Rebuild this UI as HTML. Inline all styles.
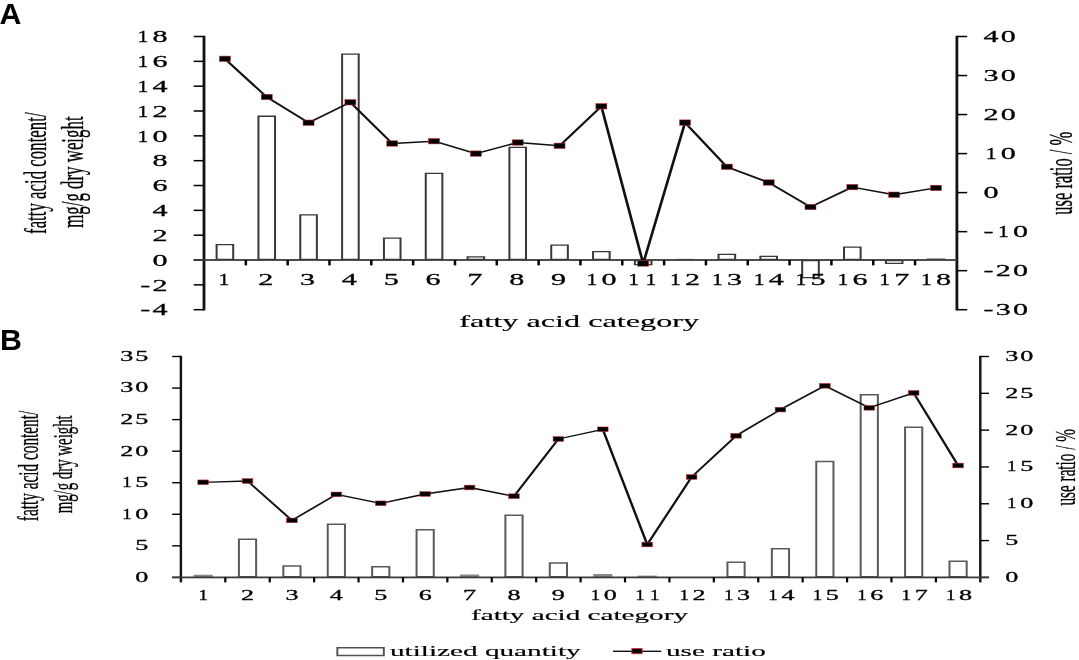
<!DOCTYPE html><html><head><meta charset="utf-8"><style>html,body{margin:0;padding:0;background:#fff;width:1079px;height:660px;overflow:hidden}</style></head><body><svg width="1079" height="660" viewBox="0 0 1079 660" style="display:block;will-change:transform"><g>
<rect width="1079" height="660" fill="#fff"/>
<path d="M215.61,243.9H234.21V260H215.61ZM217.61,245.2V258.7H232.21V245.2Z" fill="#383838" fill-rule="evenodd"/>
<path d="M257.44,115.6H276.04V260H257.44ZM259.44,116.9V258.7H274.04V116.9Z" fill="#383838" fill-rule="evenodd"/>
<path d="M299.27,214.3H317.87V260H299.27ZM301.27,215.6V258.7H315.87V215.6Z" fill="#383838" fill-rule="evenodd"/>
<path d="M341.1,53.5H359.7V260H341.1ZM343.1,54.8V258.7H357.7V54.8Z" fill="#383838" fill-rule="evenodd"/>
<path d="M382.93,237.4H401.53V260H382.93ZM384.93,238.7V258.7H399.53V238.7Z" fill="#383838" fill-rule="evenodd"/>
<path d="M424.75,172.7H443.35V260H424.75ZM426.75,174V258.7H441.35V174Z" fill="#383838" fill-rule="evenodd"/>
<path d="M466.58,256.2H485.18V260H466.58ZM468.58,257.5V258.7H483.18V257.5Z" fill="#383838" fill-rule="evenodd"/>
<path d="M508.41,146.7H527.01V260H508.41ZM510.41,148V258.7H525.01V148Z" fill="#383838" fill-rule="evenodd"/>
<path d="M550.24,244.5H568.84V260H550.24ZM552.24,245.8V258.7H566.84V245.8Z" fill="#383838" fill-rule="evenodd"/>
<path d="M592.06,251H610.66V260H592.06ZM594.06,252.3V258.7H608.66V252.3Z" fill="#383838" fill-rule="evenodd"/>
<path d="M633.89,260H652.49V265.2H633.89ZM635.89,261.3V263.9H650.49V261.3Z" fill="#383838" fill-rule="evenodd"/>
<rect x="675.72" y="258.8" width="18.6" height="1.2" fill="#8a8a8a"/>
<path d="M717.55,253.7H736.15V260H717.55ZM719.55,255V258.7H734.15V255Z" fill="#383838" fill-rule="evenodd"/>
<path d="M759.38,255.8H777.97V260H759.38ZM761.38,257.1V258.7H775.97V257.1Z" fill="#383838" fill-rule="evenodd"/>
<path d="M801.2,260H819.8V278.3H801.2ZM803.2,261.3V277H817.8V261.3Z" fill="#383838" fill-rule="evenodd"/>
<path d="M843.03,246.5H861.63V260H843.03ZM845.03,247.8V258.7H859.63V247.8Z" fill="#383838" fill-rule="evenodd"/>
<path d="M884.86,260H903.46V264.1H884.86ZM886.86,261.3V262.8H901.46V261.3Z" fill="#383838" fill-rule="evenodd"/>
<rect x="926.69" y="258.2" width="18.6" height="1.8" fill="#8a8a8a"/>
<rect x="202.6" y="35.75" width="2.8" height="274.7" fill="#111"/>
<rect x="955.5" y="35.75" width="2.8" height="274.7" fill="#111"/>
<rect x="193.7" y="308.95" width="10.3" height="1.5" fill="#000"/>
<text transform="translate(167.5,315.42) scale(1.72,1) scale(0.1)" y="0" font-family="'Liberation Serif', serif" font-size="175.0" fill="#000" stroke="#000" stroke-width="3.00"><tspan x="-158.6">-</tspan><tspan x="-87.5">4</tspan></text>
<rect x="193.7" y="284.11" width="10.3" height="1.5" fill="#000"/>
<text transform="translate(167.5,290.59) scale(1.72,1) scale(0.1)" y="0" font-family="'Liberation Serif', serif" font-size="175.0" fill="#000" stroke="#000" stroke-width="3.00"><tspan x="-158.6">-</tspan><tspan x="-87.5">2</tspan></text>
<rect x="193.7" y="259.28" width="10.3" height="1.5" fill="#000"/>
<text transform="translate(167.5,265.75) scale(1.72,1) scale(0.1)" y="0" font-family="'Liberation Serif', serif" font-size="175.0" fill="#000" stroke="#000" stroke-width="3.00"><tspan x="-87.5">0</tspan></text>
<rect x="193.7" y="234.44" width="10.3" height="1.5" fill="#000"/>
<text transform="translate(167.5,240.91) scale(1.72,1) scale(0.1)" y="0" font-family="'Liberation Serif', serif" font-size="175.0" fill="#000" stroke="#000" stroke-width="3.00"><tspan x="-87.5">2</tspan></text>
<rect x="193.7" y="209.6" width="10.3" height="1.5" fill="#000"/>
<text transform="translate(167.5,216.08) scale(1.72,1) scale(0.1)" y="0" font-family="'Liberation Serif', serif" font-size="175.0" fill="#000" stroke="#000" stroke-width="3.00"><tspan x="-87.5">4</tspan></text>
<rect x="193.7" y="184.77" width="10.3" height="1.5" fill="#000"/>
<text transform="translate(167.5,191.24) scale(1.72,1) scale(0.1)" y="0" font-family="'Liberation Serif', serif" font-size="175.0" fill="#000" stroke="#000" stroke-width="3.00"><tspan x="-87.5">6</tspan></text>
<rect x="193.7" y="159.93" width="10.3" height="1.5" fill="#000"/>
<text transform="translate(167.5,166.4) scale(1.72,1) scale(0.1)" y="0" font-family="'Liberation Serif', serif" font-size="175.0" fill="#000" stroke="#000" stroke-width="3.00"><tspan x="-87.5">8</tspan></text>
<rect x="193.7" y="135.1" width="10.3" height="1.5" fill="#000"/>
<text transform="translate(167.5,141.57) scale(1.72,1) scale(0.1)" y="0" font-family="'Liberation Serif', serif" font-size="175.0" fill="#000" stroke="#000" stroke-width="3.00"><tspan x="-174.9" textLength="63.0" lengthAdjust="spacingAndGlyphs">1</tspan><tspan x="-87.5">0</tspan></text>
<rect x="193.7" y="110.26" width="10.3" height="1.5" fill="#000"/>
<text transform="translate(167.5,116.73) scale(1.72,1) scale(0.1)" y="0" font-family="'Liberation Serif', serif" font-size="175.0" fill="#000" stroke="#000" stroke-width="3.00"><tspan x="-174.9" textLength="63.0" lengthAdjust="spacingAndGlyphs">1</tspan><tspan x="-87.5">2</tspan></text>
<rect x="193.7" y="85.42" width="10.3" height="1.5" fill="#000"/>
<text transform="translate(167.5,91.9) scale(1.72,1) scale(0.1)" y="0" font-family="'Liberation Serif', serif" font-size="175.0" fill="#000" stroke="#000" stroke-width="3.00"><tspan x="-174.9" textLength="63.0" lengthAdjust="spacingAndGlyphs">1</tspan><tspan x="-87.5">4</tspan></text>
<rect x="193.7" y="60.59" width="10.3" height="1.5" fill="#000"/>
<text transform="translate(167.5,67.06) scale(1.72,1) scale(0.1)" y="0" font-family="'Liberation Serif', serif" font-size="175.0" fill="#000" stroke="#000" stroke-width="3.00"><tspan x="-174.9" textLength="63.0" lengthAdjust="spacingAndGlyphs">1</tspan><tspan x="-87.5">6</tspan></text>
<rect x="193.7" y="35.75" width="10.3" height="1.5" fill="#000"/>
<text transform="translate(167.5,42.22) scale(1.72,1) scale(0.1)" y="0" font-family="'Liberation Serif', serif" font-size="175.0" fill="#000" stroke="#000" stroke-width="3.00"><tspan x="-174.9" textLength="63.0" lengthAdjust="spacingAndGlyphs">1</tspan><tspan x="-87.5">8</tspan></text>
<rect x="956.9" y="308.95" width="10.3" height="1.5" fill="#000"/>
<text transform="translate(983.5,315.42) scale(1.72,1) scale(0.1)" y="0" font-family="'Liberation Serif', serif" font-size="175.0" fill="#000" stroke="#000" stroke-width="3.00"><tspan x="0.0">-</tspan><tspan x="71.1">3</tspan><tspan x="171.4">0</tspan></text>
<rect x="956.9" y="269.92" width="10.3" height="1.5" fill="#000"/>
<text transform="translate(983.5,276.39) scale(1.72,1) scale(0.1)" y="0" font-family="'Liberation Serif', serif" font-size="175.0" fill="#000" stroke="#000" stroke-width="3.00"><tspan x="0.0">-</tspan><tspan x="71.1">2</tspan><tspan x="171.4">0</tspan></text>
<rect x="956.9" y="230.89" width="10.3" height="1.5" fill="#000"/>
<text transform="translate(983.5,237.37) scale(1.72,1) scale(0.1)" y="0" font-family="'Liberation Serif', serif" font-size="175.0" fill="#000" stroke="#000" stroke-width="3.00"><tspan x="0.0">-</tspan><tspan x="84.0" textLength="63.0" lengthAdjust="spacingAndGlyphs">1</tspan><tspan x="171.4">0</tspan></text>
<rect x="956.9" y="191.86" width="10.3" height="1.5" fill="#000"/>
<text transform="translate(983.5,198.34) scale(1.72,1) scale(0.1)" y="0" font-family="'Liberation Serif', serif" font-size="175.0" fill="#000" stroke="#000" stroke-width="3.00"><tspan x="0.0">0</tspan></text>
<rect x="956.9" y="152.84" width="10.3" height="1.5" fill="#000"/>
<text transform="translate(983.5,159.31) scale(1.72,1) scale(0.1)" y="0" font-family="'Liberation Serif', serif" font-size="175.0" fill="#000" stroke="#000" stroke-width="3.00"><tspan x="12.9" textLength="63.0" lengthAdjust="spacingAndGlyphs">1</tspan><tspan x="100.3">0</tspan></text>
<rect x="956.9" y="113.81" width="10.3" height="1.5" fill="#000"/>
<text transform="translate(983.5,120.28) scale(1.72,1) scale(0.1)" y="0" font-family="'Liberation Serif', serif" font-size="175.0" fill="#000" stroke="#000" stroke-width="3.00"><tspan x="0.0">2</tspan><tspan x="100.3">0</tspan></text>
<rect x="956.9" y="74.78" width="10.3" height="1.5" fill="#000"/>
<text transform="translate(983.5,81.25) scale(1.72,1) scale(0.1)" y="0" font-family="'Liberation Serif', serif" font-size="175.0" fill="#000" stroke="#000" stroke-width="3.00"><tspan x="0.0">3</tspan><tspan x="100.3">0</tspan></text>
<rect x="956.9" y="35.75" width="10.3" height="1.5" fill="#000"/>
<text transform="translate(983.5,42.22) scale(1.72,1) scale(0.1)" y="0" font-family="'Liberation Serif', serif" font-size="175.0" fill="#000" stroke="#000" stroke-width="3.00"><tspan x="0.0">4</tspan><tspan x="100.3">0</tspan></text>
<rect x="193.7" y="259.1" width="763.2" height="1.8" fill="#3a3a3a"/>
<rect x="244.58" y="260" width="2.5" height="5.4" fill="#000"/>
<rect x="286.41" y="260" width="2.5" height="5.4" fill="#000"/>
<rect x="328.23" y="260" width="2.5" height="5.4" fill="#000"/>
<rect x="370.06" y="260" width="2.5" height="5.4" fill="#000"/>
<rect x="411.89" y="260" width="2.5" height="5.4" fill="#000"/>
<rect x="453.72" y="260" width="2.5" height="5.4" fill="#000"/>
<rect x="495.54" y="260" width="2.5" height="5.4" fill="#000"/>
<rect x="537.37" y="260" width="2.5" height="5.4" fill="#000"/>
<rect x="579.2" y="260" width="2.5" height="5.4" fill="#000"/>
<rect x="621.03" y="260" width="2.5" height="5.4" fill="#000"/>
<rect x="662.86" y="260" width="2.5" height="5.4" fill="#000"/>
<rect x="704.68" y="260" width="2.5" height="5.4" fill="#000"/>
<rect x="746.51" y="260" width="2.5" height="5.4" fill="#000"/>
<rect x="788.34" y="260" width="2.5" height="5.4" fill="#000"/>
<rect x="830.17" y="260" width="2.5" height="5.4" fill="#000"/>
<rect x="871.99" y="260" width="2.5" height="5.4" fill="#000"/>
<rect x="913.82" y="260" width="2.5" height="5.4" fill="#000"/>
<text transform="translate(223.91,284.92) scale(1.72,1) scale(0.1)" y="0" font-family="'Liberation Serif', serif" font-size="175.0" fill="#000" stroke="#000" stroke-width="3.00"><tspan x="-30.8" textLength="63.0" lengthAdjust="spacingAndGlyphs">1</tspan></text>
<text transform="translate(265.74,284.92) scale(1.72,1) scale(0.1)" y="0" font-family="'Liberation Serif', serif" font-size="175.0" fill="#000" stroke="#000" stroke-width="3.00"><tspan x="-43.8">2</tspan></text>
<text transform="translate(307.57,284.92) scale(1.72,1) scale(0.1)" y="0" font-family="'Liberation Serif', serif" font-size="175.0" fill="#000" stroke="#000" stroke-width="3.00"><tspan x="-43.8">3</tspan></text>
<text transform="translate(349.4,284.92) scale(1.72,1) scale(0.1)" y="0" font-family="'Liberation Serif', serif" font-size="175.0" fill="#000" stroke="#000" stroke-width="3.00"><tspan x="-43.8">4</tspan></text>
<text transform="translate(391.23,284.92) scale(1.72,1) scale(0.1)" y="0" font-family="'Liberation Serif', serif" font-size="175.0" fill="#000" stroke="#000" stroke-width="3.00"><tspan x="-43.8">5</tspan></text>
<text transform="translate(433.05,284.92) scale(1.72,1) scale(0.1)" y="0" font-family="'Liberation Serif', serif" font-size="175.0" fill="#000" stroke="#000" stroke-width="3.00"><tspan x="-43.8">6</tspan></text>
<text transform="translate(474.88,284.92) scale(1.72,1) scale(0.1)" y="0" font-family="'Liberation Serif', serif" font-size="175.0" fill="#000" stroke="#000" stroke-width="3.00"><tspan x="-43.8">7</tspan></text>
<text transform="translate(516.71,284.92) scale(1.72,1) scale(0.1)" y="0" font-family="'Liberation Serif', serif" font-size="175.0" fill="#000" stroke="#000" stroke-width="3.00"><tspan x="-43.8">8</tspan></text>
<text transform="translate(558.54,284.92) scale(1.72,1) scale(0.1)" y="0" font-family="'Liberation Serif', serif" font-size="175.0" fill="#000" stroke="#000" stroke-width="3.00"><tspan x="-43.8">9</tspan></text>
<text transform="translate(600.36,284.92) scale(1.72,1) scale(0.1)" y="0" font-family="'Liberation Serif', serif" font-size="175.0" fill="#000" stroke="#000" stroke-width="3.00"><tspan x="-81.0" textLength="63.0" lengthAdjust="spacingAndGlyphs">1</tspan><tspan x="6.4">0</tspan></text>
<text transform="translate(642.19,284.92) scale(1.72,1) scale(0.1)" y="0" font-family="'Liberation Serif', serif" font-size="175.0" fill="#000" stroke="#000" stroke-width="3.00"><tspan x="-81.0" textLength="63.0" lengthAdjust="spacingAndGlyphs">1</tspan><tspan x="19.3" textLength="63.0" lengthAdjust="spacingAndGlyphs">1</tspan></text>
<text transform="translate(684.02,284.92) scale(1.72,1) scale(0.1)" y="0" font-family="'Liberation Serif', serif" font-size="175.0" fill="#000" stroke="#000" stroke-width="3.00"><tspan x="-81.0" textLength="63.0" lengthAdjust="spacingAndGlyphs">1</tspan><tspan x="6.4">2</tspan></text>
<text transform="translate(725.85,284.92) scale(1.72,1) scale(0.1)" y="0" font-family="'Liberation Serif', serif" font-size="175.0" fill="#000" stroke="#000" stroke-width="3.00"><tspan x="-81.0" textLength="63.0" lengthAdjust="spacingAndGlyphs">1</tspan><tspan x="6.4">3</tspan></text>
<text transform="translate(767.67,284.92) scale(1.72,1) scale(0.1)" y="0" font-family="'Liberation Serif', serif" font-size="175.0" fill="#000" stroke="#000" stroke-width="3.00"><tspan x="-81.0" textLength="63.0" lengthAdjust="spacingAndGlyphs">1</tspan><tspan x="6.4">4</tspan></text>
<text transform="translate(809.5,284.92) scale(1.72,1) scale(0.1)" y="0" font-family="'Liberation Serif', serif" font-size="175.0" fill="#000" stroke="#000" stroke-width="3.00"><tspan x="-81.0" textLength="63.0" lengthAdjust="spacingAndGlyphs">1</tspan><tspan x="6.4">5</tspan></text>
<text transform="translate(851.33,284.92) scale(1.72,1) scale(0.1)" y="0" font-family="'Liberation Serif', serif" font-size="175.0" fill="#000" stroke="#000" stroke-width="3.00"><tspan x="-81.0" textLength="63.0" lengthAdjust="spacingAndGlyphs">1</tspan><tspan x="6.4">6</tspan></text>
<text transform="translate(893.16,284.92) scale(1.72,1) scale(0.1)" y="0" font-family="'Liberation Serif', serif" font-size="175.0" fill="#000" stroke="#000" stroke-width="3.00"><tspan x="-81.0" textLength="63.0" lengthAdjust="spacingAndGlyphs">1</tspan><tspan x="6.4">7</tspan></text>
<text transform="translate(934.99,284.92) scale(1.72,1) scale(0.1)" y="0" font-family="'Liberation Serif', serif" font-size="175.0" fill="#000" stroke="#000" stroke-width="3.00"><tspan x="-81.0" textLength="63.0" lengthAdjust="spacingAndGlyphs">1</tspan><tspan x="6.4">8</tspan></text>
<g transform="scale(1.87,1)"><polyline points="120.27,58.8 142.64,97 165.01,122.7 187.38,102.3 209.75,143.5 232.11,141.2 254.48,153.6 276.85,142.5 299.22,145.8 321.58,106.3 343.95,263.5 366.32,122.6 388.69,166.8 411.06,182.5 433.42,207 455.79,187.1 478.16,194.7 500.53,187.9" fill="none" stroke="#111" stroke-width="1.45" stroke-linejoin="round"/></g>
<rect x="219.41" y="56.1" width="11" height="5.4" fill="#000" stroke="#c83232" stroke-width="0.55"/>
<rect x="261.24" y="94.3" width="11" height="5.4" fill="#000" stroke="#c83232" stroke-width="0.55"/>
<rect x="303.07" y="120" width="11" height="5.4" fill="#000" stroke="#c83232" stroke-width="0.55"/>
<rect x="344.9" y="99.6" width="11" height="5.4" fill="#000" stroke="#c83232" stroke-width="0.55"/>
<rect x="386.73" y="140.8" width="11" height="5.4" fill="#000" stroke="#c83232" stroke-width="0.55"/>
<rect x="428.55" y="138.5" width="11" height="5.4" fill="#000" stroke="#c83232" stroke-width="0.55"/>
<rect x="470.38" y="150.9" width="11" height="5.4" fill="#000" stroke="#c83232" stroke-width="0.55"/>
<rect x="512.21" y="139.8" width="11" height="5.4" fill="#000" stroke="#c83232" stroke-width="0.55"/>
<rect x="554.04" y="143.1" width="11" height="5.4" fill="#000" stroke="#c83232" stroke-width="0.55"/>
<rect x="595.86" y="103.6" width="11" height="5.4" fill="#000" stroke="#c83232" stroke-width="0.55"/>
<rect x="637.69" y="260.8" width="11" height="5.4" fill="#000" stroke="#c83232" stroke-width="0.55"/>
<rect x="679.52" y="119.9" width="11" height="5.4" fill="#000" stroke="#c83232" stroke-width="0.55"/>
<rect x="721.35" y="164.1" width="11" height="5.4" fill="#000" stroke="#c83232" stroke-width="0.55"/>
<rect x="763.17" y="179.8" width="11" height="5.4" fill="#000" stroke="#c83232" stroke-width="0.55"/>
<rect x="805" y="204.3" width="11" height="5.4" fill="#000" stroke="#c83232" stroke-width="0.55"/>
<rect x="846.83" y="184.4" width="11" height="5.4" fill="#000" stroke="#c83232" stroke-width="0.55"/>
<rect x="888.66" y="192" width="11" height="5.4" fill="#000" stroke="#c83232" stroke-width="0.55"/>
<rect x="930.49" y="185.2" width="11" height="5.4" fill="#000" stroke="#c83232" stroke-width="0.55"/>
<rect x="193.51" y="574.7" width="19.2" height="2.7" fill="#8a8a8a"/>
<path d="M237.92,538.6H257.12V577.4H237.92ZM239.92,540.1V575.9H255.12V540.1Z" fill="#5a5a5a" fill-rule="evenodd"/>
<path d="M282.33,565.3H301.53V577.4H282.33ZM284.33,566.8V575.9H299.53V566.8Z" fill="#5a5a5a" fill-rule="evenodd"/>
<path d="M326.74,523.5H345.94V577.4H326.74ZM328.74,525V575.9H343.94V525Z" fill="#5a5a5a" fill-rule="evenodd"/>
<path d="M371.15,566.1H390.35V577.4H371.15ZM373.15,567.6V575.9H388.35V567.6Z" fill="#5a5a5a" fill-rule="evenodd"/>
<path d="M415.56,529.1H434.76V577.4H415.56ZM417.56,530.6V575.9H432.76V530.6Z" fill="#5a5a5a" fill-rule="evenodd"/>
<rect x="459.97" y="574.5" width="19.2" height="2.9" fill="#8a8a8a"/>
<path d="M504.38,514.5H523.58V577.4H504.38ZM506.38,516V575.9H521.58V516Z" fill="#5a5a5a" fill-rule="evenodd"/>
<path d="M548.79,562.2H567.99V577.4H548.79ZM550.79,563.7V575.9H565.99V563.7Z" fill="#5a5a5a" fill-rule="evenodd"/>
<rect x="593.21" y="574" width="19.2" height="3.4" fill="#8a8a8a"/>
<rect x="637.62" y="575.6" width="19.2" height="1.8" fill="#8a8a8a"/>
<path d="M726.44,561.6H745.64V577.4H726.44ZM728.44,563.1V575.9H743.64V563.1Z" fill="#5a5a5a" fill-rule="evenodd"/>
<path d="M770.85,547.9H790.05V577.4H770.85ZM772.85,549.4V575.9H788.05V549.4Z" fill="#5a5a5a" fill-rule="evenodd"/>
<path d="M815.26,460.7H834.46V577.4H815.26ZM817.26,462.2V575.9H832.46V462.2Z" fill="#5a5a5a" fill-rule="evenodd"/>
<path d="M859.67,393.9H878.87V577.4H859.67ZM861.67,395.4V575.9H876.87V395.4Z" fill="#5a5a5a" fill-rule="evenodd"/>
<path d="M904.08,426.4H923.28V577.4H904.08ZM906.08,427.9V575.9H921.28V427.9Z" fill="#5a5a5a" fill-rule="evenodd"/>
<path d="M948.49,560.4H967.69V577.4H948.49ZM950.49,561.9V575.9H965.69V561.9Z" fill="#5a5a5a" fill-rule="evenodd"/>
<rect x="179.7" y="355.8" width="2.4" height="226.6" fill="#111"/>
<rect x="979.1" y="355.8" width="2.4" height="226.6" fill="#111"/>
<rect x="172.2" y="576.7" width="8.7" height="1.4" fill="#000"/>
<text transform="translate(148.3,581.77) scale(1.72,1) scale(0.1)" y="0" font-family="'Liberation Serif', serif" font-size="152.0" fill="#000" stroke="#000" stroke-width="3.00"><tspan x="-76.0">0</tspan></text>
<rect x="172.2" y="545.14" width="8.7" height="1.4" fill="#000"/>
<text transform="translate(148.3,550.21) scale(1.72,1) scale(0.1)" y="0" font-family="'Liberation Serif', serif" font-size="152.0" fill="#000" stroke="#000" stroke-width="3.00"><tspan x="-76.0">5</tspan></text>
<rect x="172.2" y="513.59" width="8.7" height="1.4" fill="#000"/>
<text transform="translate(148.3,518.66) scale(1.72,1) scale(0.1)" y="0" font-family="'Liberation Serif', serif" font-size="152.0" fill="#000" stroke="#000" stroke-width="3.00"><tspan x="-151.9" textLength="54.7" lengthAdjust="spacingAndGlyphs">1</tspan><tspan x="-76.0">0</tspan></text>
<rect x="172.2" y="482.03" width="8.7" height="1.4" fill="#000"/>
<text transform="translate(148.3,487.1) scale(1.72,1) scale(0.1)" y="0" font-family="'Liberation Serif', serif" font-size="152.0" fill="#000" stroke="#000" stroke-width="3.00"><tspan x="-151.9" textLength="54.7" lengthAdjust="spacingAndGlyphs">1</tspan><tspan x="-76.0">5</tspan></text>
<rect x="172.2" y="450.47" width="8.7" height="1.4" fill="#000"/>
<text transform="translate(148.3,455.54) scale(1.72,1) scale(0.1)" y="0" font-family="'Liberation Serif', serif" font-size="152.0" fill="#000" stroke="#000" stroke-width="3.00"><tspan x="-163.1">2</tspan><tspan x="-76.0">0</tspan></text>
<rect x="172.2" y="418.91" width="8.7" height="1.4" fill="#000"/>
<text transform="translate(148.3,423.98) scale(1.72,1) scale(0.1)" y="0" font-family="'Liberation Serif', serif" font-size="152.0" fill="#000" stroke="#000" stroke-width="3.00"><tspan x="-163.1">2</tspan><tspan x="-76.0">5</tspan></text>
<rect x="172.2" y="387.36" width="8.7" height="1.4" fill="#000"/>
<text transform="translate(148.3,392.43) scale(1.72,1) scale(0.1)" y="0" font-family="'Liberation Serif', serif" font-size="152.0" fill="#000" stroke="#000" stroke-width="3.00"><tspan x="-163.1">3</tspan><tspan x="-76.0">0</tspan></text>
<rect x="172.2" y="355.8" width="8.7" height="1.4" fill="#000"/>
<text transform="translate(148.3,360.87) scale(1.72,1) scale(0.1)" y="0" font-family="'Liberation Serif', serif" font-size="152.0" fill="#000" stroke="#000" stroke-width="3.00"><tspan x="-163.1">3</tspan><tspan x="-76.0">5</tspan></text>
<rect x="980.3" y="576.7" width="8.7" height="1.4" fill="#000"/>
<text transform="translate(1005.2,581.77) scale(1.72,1) scale(0.1)" y="0" font-family="'Liberation Serif', serif" font-size="152.0" fill="#000" stroke="#000" stroke-width="3.00"><tspan x="0.0">0</tspan></text>
<rect x="980.3" y="539.88" width="8.7" height="1.4" fill="#000"/>
<text transform="translate(1005.2,544.95) scale(1.72,1) scale(0.1)" y="0" font-family="'Liberation Serif', serif" font-size="152.0" fill="#000" stroke="#000" stroke-width="3.00"><tspan x="0.0">5</tspan></text>
<rect x="980.3" y="503.07" width="8.7" height="1.4" fill="#000"/>
<text transform="translate(1005.2,508.14) scale(1.72,1) scale(0.1)" y="0" font-family="'Liberation Serif', serif" font-size="152.0" fill="#000" stroke="#000" stroke-width="3.00"><tspan x="11.2" textLength="54.7" lengthAdjust="spacingAndGlyphs">1</tspan><tspan x="87.1">0</tspan></text>
<rect x="980.3" y="466.25" width="8.7" height="1.4" fill="#000"/>
<text transform="translate(1005.2,471.32) scale(1.72,1) scale(0.1)" y="0" font-family="'Liberation Serif', serif" font-size="152.0" fill="#000" stroke="#000" stroke-width="3.00"><tspan x="11.2" textLength="54.7" lengthAdjust="spacingAndGlyphs">1</tspan><tspan x="87.1">5</tspan></text>
<rect x="980.3" y="429.43" width="8.7" height="1.4" fill="#000"/>
<text transform="translate(1005.2,434.5) scale(1.72,1) scale(0.1)" y="0" font-family="'Liberation Serif', serif" font-size="152.0" fill="#000" stroke="#000" stroke-width="3.00"><tspan x="0.0">2</tspan><tspan x="87.1">0</tspan></text>
<rect x="980.3" y="392.62" width="8.7" height="1.4" fill="#000"/>
<text transform="translate(1005.2,397.69) scale(1.72,1) scale(0.1)" y="0" font-family="'Liberation Serif', serif" font-size="152.0" fill="#000" stroke="#000" stroke-width="3.00"><tspan x="0.0">2</tspan><tspan x="87.1">5</tspan></text>
<rect x="980.3" y="355.8" width="8.7" height="1.4" fill="#000"/>
<text transform="translate(1005.2,360.87) scale(1.72,1) scale(0.1)" y="0" font-family="'Liberation Serif', serif" font-size="152.0" fill="#000" stroke="#000" stroke-width="3.00"><tspan x="0.0">3</tspan><tspan x="87.1">0</tspan></text>
<rect x="172.2" y="576.5" width="816.8" height="1.8" fill="#3a3a3a"/>
<rect x="224.21" y="577.4" width="2.2" height="5" fill="#000"/>
<rect x="268.62" y="577.4" width="2.2" height="5" fill="#000"/>
<rect x="313.03" y="577.4" width="2.2" height="5" fill="#000"/>
<rect x="357.44" y="577.4" width="2.2" height="5" fill="#000"/>
<rect x="401.86" y="577.4" width="2.2" height="5" fill="#000"/>
<rect x="446.27" y="577.4" width="2.2" height="5" fill="#000"/>
<rect x="490.68" y="577.4" width="2.2" height="5" fill="#000"/>
<rect x="535.09" y="577.4" width="2.2" height="5" fill="#000"/>
<rect x="579.5" y="577.4" width="2.2" height="5" fill="#000"/>
<rect x="623.91" y="577.4" width="2.2" height="5" fill="#000"/>
<rect x="668.32" y="577.4" width="2.2" height="5" fill="#000"/>
<rect x="712.73" y="577.4" width="2.2" height="5" fill="#000"/>
<rect x="757.14" y="577.4" width="2.2" height="5" fill="#000"/>
<rect x="801.56" y="577.4" width="2.2" height="5" fill="#000"/>
<rect x="845.97" y="577.4" width="2.2" height="5" fill="#000"/>
<rect x="890.38" y="577.4" width="2.2" height="5" fill="#000"/>
<rect x="934.79" y="577.4" width="2.2" height="5" fill="#000"/>
<text transform="translate(203.11,599.77) scale(1.72,1) scale(0.1)" y="0" font-family="'Liberation Serif', serif" font-size="152.0" fill="#000" stroke="#000" stroke-width="3.00"><tspan x="-26.8" textLength="54.7" lengthAdjust="spacingAndGlyphs">1</tspan></text>
<text transform="translate(247.52,599.77) scale(1.72,1) scale(0.1)" y="0" font-family="'Liberation Serif', serif" font-size="152.0" fill="#000" stroke="#000" stroke-width="3.00"><tspan x="-38.0">2</tspan></text>
<text transform="translate(291.93,599.77) scale(1.72,1) scale(0.1)" y="0" font-family="'Liberation Serif', serif" font-size="152.0" fill="#000" stroke="#000" stroke-width="3.00"><tspan x="-38.0">3</tspan></text>
<text transform="translate(336.34,599.77) scale(1.72,1) scale(0.1)" y="0" font-family="'Liberation Serif', serif" font-size="152.0" fill="#000" stroke="#000" stroke-width="3.00"><tspan x="-38.0">4</tspan></text>
<text transform="translate(380.75,599.77) scale(1.72,1) scale(0.1)" y="0" font-family="'Liberation Serif', serif" font-size="152.0" fill="#000" stroke="#000" stroke-width="3.00"><tspan x="-38.0">5</tspan></text>
<text transform="translate(425.16,599.77) scale(1.72,1) scale(0.1)" y="0" font-family="'Liberation Serif', serif" font-size="152.0" fill="#000" stroke="#000" stroke-width="3.00"><tspan x="-38.0">6</tspan></text>
<text transform="translate(469.57,599.77) scale(1.72,1) scale(0.1)" y="0" font-family="'Liberation Serif', serif" font-size="152.0" fill="#000" stroke="#000" stroke-width="3.00"><tspan x="-38.0">7</tspan></text>
<text transform="translate(513.98,599.77) scale(1.72,1) scale(0.1)" y="0" font-family="'Liberation Serif', serif" font-size="152.0" fill="#000" stroke="#000" stroke-width="3.00"><tspan x="-38.0">8</tspan></text>
<text transform="translate(558.39,599.77) scale(1.72,1) scale(0.1)" y="0" font-family="'Liberation Serif', serif" font-size="152.0" fill="#000" stroke="#000" stroke-width="3.00"><tspan x="-38.0">9</tspan></text>
<text transform="translate(602.81,599.77) scale(1.72,1) scale(0.1)" y="0" font-family="'Liberation Serif', serif" font-size="152.0" fill="#000" stroke="#000" stroke-width="3.00"><tspan x="-70.3" textLength="54.7" lengthAdjust="spacingAndGlyphs">1</tspan><tspan x="5.6">0</tspan></text>
<text transform="translate(647.22,599.77) scale(1.72,1) scale(0.1)" y="0" font-family="'Liberation Serif', serif" font-size="152.0" fill="#000" stroke="#000" stroke-width="3.00"><tspan x="-70.3" textLength="54.7" lengthAdjust="spacingAndGlyphs">1</tspan><tspan x="16.8" textLength="54.7" lengthAdjust="spacingAndGlyphs">1</tspan></text>
<text transform="translate(691.63,599.77) scale(1.72,1) scale(0.1)" y="0" font-family="'Liberation Serif', serif" font-size="152.0" fill="#000" stroke="#000" stroke-width="3.00"><tspan x="-70.3" textLength="54.7" lengthAdjust="spacingAndGlyphs">1</tspan><tspan x="5.6">2</tspan></text>
<text transform="translate(736.04,599.77) scale(1.72,1) scale(0.1)" y="0" font-family="'Liberation Serif', serif" font-size="152.0" fill="#000" stroke="#000" stroke-width="3.00"><tspan x="-70.3" textLength="54.7" lengthAdjust="spacingAndGlyphs">1</tspan><tspan x="5.6">3</tspan></text>
<text transform="translate(780.45,599.77) scale(1.72,1) scale(0.1)" y="0" font-family="'Liberation Serif', serif" font-size="152.0" fill="#000" stroke="#000" stroke-width="3.00"><tspan x="-70.3" textLength="54.7" lengthAdjust="spacingAndGlyphs">1</tspan><tspan x="5.6">4</tspan></text>
<text transform="translate(824.86,599.77) scale(1.72,1) scale(0.1)" y="0" font-family="'Liberation Serif', serif" font-size="152.0" fill="#000" stroke="#000" stroke-width="3.00"><tspan x="-70.3" textLength="54.7" lengthAdjust="spacingAndGlyphs">1</tspan><tspan x="5.6">5</tspan></text>
<text transform="translate(869.27,599.77) scale(1.72,1) scale(0.1)" y="0" font-family="'Liberation Serif', serif" font-size="152.0" fill="#000" stroke="#000" stroke-width="3.00"><tspan x="-70.3" textLength="54.7" lengthAdjust="spacingAndGlyphs">1</tspan><tspan x="5.6">6</tspan></text>
<text transform="translate(913.68,599.77) scale(1.72,1) scale(0.1)" y="0" font-family="'Liberation Serif', serif" font-size="152.0" fill="#000" stroke="#000" stroke-width="3.00"><tspan x="-70.3" textLength="54.7" lengthAdjust="spacingAndGlyphs">1</tspan><tspan x="5.6">7</tspan></text>
<text transform="translate(958.09,599.77) scale(1.72,1) scale(0.1)" y="0" font-family="'Liberation Serif', serif" font-size="152.0" fill="#000" stroke="#000" stroke-width="3.00"><tspan x="-70.3" textLength="54.7" lengthAdjust="spacingAndGlyphs">1</tspan><tspan x="5.6">8</tspan></text>
<g transform="scale(1.87,1)"><polyline points="108.61,482.3 132.36,481 156.11,520.4 179.86,494.4 203.61,503.3 227.36,494 251.11,487.5 274.86,496.2 298.61,439 322.36,429.3 346.11,544.5 369.85,477 393.6,435.8 417.35,409.6 441.1,385.8 464.85,407.8 488.6,392.9 512.35,465.5" fill="none" stroke="#111" stroke-width="1.35" stroke-linejoin="round"/></g>
<rect x="197.81" y="479.95" width="10.6" height="4.7" fill="#000" stroke="#c83232" stroke-width="0.55"/>
<rect x="242.22" y="478.65" width="10.6" height="4.7" fill="#000" stroke="#c83232" stroke-width="0.55"/>
<rect x="286.63" y="518.05" width="10.6" height="4.7" fill="#000" stroke="#c83232" stroke-width="0.55"/>
<rect x="331.04" y="492.05" width="10.6" height="4.7" fill="#000" stroke="#c83232" stroke-width="0.55"/>
<rect x="375.45" y="500.95" width="10.6" height="4.7" fill="#000" stroke="#c83232" stroke-width="0.55"/>
<rect x="419.86" y="491.65" width="10.6" height="4.7" fill="#000" stroke="#c83232" stroke-width="0.55"/>
<rect x="464.27" y="485.15" width="10.6" height="4.7" fill="#000" stroke="#c83232" stroke-width="0.55"/>
<rect x="508.68" y="493.85" width="10.6" height="4.7" fill="#000" stroke="#c83232" stroke-width="0.55"/>
<rect x="553.09" y="436.65" width="10.6" height="4.7" fill="#000" stroke="#c83232" stroke-width="0.55"/>
<rect x="597.51" y="426.95" width="10.6" height="4.7" fill="#000" stroke="#c83232" stroke-width="0.55"/>
<rect x="641.92" y="542.15" width="10.6" height="4.7" fill="#000" stroke="#c83232" stroke-width="0.55"/>
<rect x="686.33" y="474.65" width="10.6" height="4.7" fill="#000" stroke="#c83232" stroke-width="0.55"/>
<rect x="730.74" y="433.45" width="10.6" height="4.7" fill="#000" stroke="#c83232" stroke-width="0.55"/>
<rect x="775.15" y="407.25" width="10.6" height="4.7" fill="#000" stroke="#c83232" stroke-width="0.55"/>
<rect x="819.56" y="383.45" width="10.6" height="4.7" fill="#000" stroke="#c83232" stroke-width="0.55"/>
<rect x="863.97" y="405.45" width="10.6" height="4.7" fill="#000" stroke="#c83232" stroke-width="0.55"/>
<rect x="908.38" y="390.55" width="10.6" height="4.7" fill="#000" stroke="#c83232" stroke-width="0.55"/>
<rect x="952.79" y="463.15" width="10.6" height="4.7" fill="#000" stroke="#c83232" stroke-width="0.55"/>
<text transform="translate(45.8,173.2) scale(1.87,1) rotate(-90) scale(0.1)" x="0" y="0" font-family="'Liberation Serif', serif" font-size="168.5" text-anchor="middle" fill="#000" stroke="#000" stroke-width="1.60">fatty acid content/</text>
<text transform="translate(82.5,172.1) scale(1.87,1) rotate(-90) scale(0.1)" x="0" y="0" font-family="'Liberation Serif', serif" font-size="168.5" text-anchor="middle" fill="#000" stroke="#000" stroke-width="1.60">mg/g dry weight</text>
<text transform="translate(1072,173.2) scale(2.0,1) rotate(-90) scale(0.1)" x="0" y="0" font-family="'Liberation Serif', serif" font-size="165.0" text-anchor="middle" fill="#000" stroke="#000" stroke-width="1.60">use ratio / %</text>
<text transform="translate(579.2,326.5) scale(1.92,1) scale(0.1)" x="0" y="0" font-family="'Liberation Serif', serif" font-size="168.0" text-anchor="middle" fill="#000" stroke="#000" stroke-width="1.60">fatty acid category</text>
<text transform="translate(38,466) scale(1.87,1) rotate(-90) scale(0.1)" x="0" y="0" font-family="'Liberation Serif', serif" font-size="153.0" text-anchor="middle" fill="#000" stroke="#000" stroke-width="1.60">fatty acid content/</text>
<text transform="translate(72,464.3) scale(1.87,1) rotate(-90) scale(0.1)" x="0" y="0" font-family="'Liberation Serif', serif" font-size="148.5" text-anchor="middle" fill="#000" stroke="#000" stroke-width="1.60">mg/g dry weight</text>
<text transform="translate(1074.5,467.3) scale(1.95,1) rotate(-90) scale(0.1)" x="0" y="0" font-family="'Liberation Serif', serif" font-size="152.0" text-anchor="middle" fill="#000" stroke="#000" stroke-width="1.60">use ratio / %</text>
<text transform="translate(579.5,620.2) scale(1.92,1) scale(0.1)" x="0" y="0" font-family="'Liberation Serif', serif" font-size="152.0" text-anchor="middle" fill="#000" stroke="#000" stroke-width="1.60">fatty acid category</text>
<path d="M336.4,647.1H384.8V656.2H336.4ZM338.3,648.5V654.8H382.9V648.5Z" fill="#505050" fill-rule="evenodd"/>
<text transform="translate(390,655.5) scale(1.91,1) scale(0.1)" x="0" y="0" font-family="'Liberation Serif', serif" font-size="153.0" text-anchor="start" fill="#000" stroke="#000" stroke-width="1.60">utilized quantity</text>
<rect x="613" y="650.6" width="48.2" height="1.4" fill="#111"/>
<rect x="631.9" y="648.5" width="10.2" height="5.2" fill="#000" stroke="#c83232" stroke-width="0.9"/>
<text transform="translate(666,655.5) scale(1.91,1) scale(0.1)" x="0" y="0" font-family="'Liberation Serif', serif" font-size="153.0" text-anchor="start" fill="#000" stroke="#000" stroke-width="1.60">use ratio</text>
<text transform="translate(-0.6,23.9) scale(1.0,1) scale(0.1)" x="0" y="0" font-family="'Liberation Sans', sans-serif" font-size="303.0" font-weight="bold" text-anchor="start" fill="#000">A</text>
<text transform="translate(0,350.3) scale(1.0,1) scale(0.1)" x="0" y="0" font-family="'Liberation Sans', sans-serif" font-size="303.0" font-weight="bold" text-anchor="start" fill="#000">B</text>
</g></svg></body></html>
